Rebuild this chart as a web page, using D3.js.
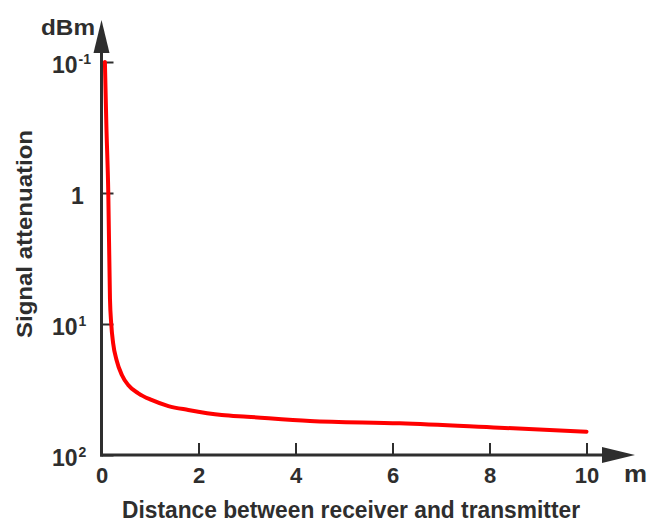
<!DOCTYPE html>
<html>
<head>
<meta charset="utf-8">
<script src="https://cdn.jsdelivr.net/npm/d3@7"></script>
<style>
  body { margin: 0; background: #fff; }
  text { font-family: "Liberation Sans", Arial, sans-serif; font-weight: bold; fill: #2e2e2e; }
</style>
</head>
<body>
<script>
// distance (m) and attenuation
const distance = [0.07, 0.10, 0.14, 0.175, 0.20, 0.24, 0.31, 0.42, 0.55, 0.76, 1.03, 1.38, 1.79, 2.48, 3.0, 4.3, 6.15, 8.2, 10];
const attenuation = [0.1, 0.3, 1, 6.5, 9.9, 14, 18.8, 24.5, 29.2, 33.8, 38, 42.3, 45.3, 49.5, 51, 55, 57.3, 61.9, 66.4];

const xTicks = [0, 2, 4, 6, 8, 10];
const yTicks = [0.1, 1, 10, 100];
const yTickBase = ['10', '1', '10', '10'];
const yTickExp = ['-1', '', '1', '2'];

const width = 647;
const height = 523;
const ink = '#2e2e2e';

let svg = d3.select('body').append('svg')
  .attr('width', width)
  .attr('height', height);

const x = d3.scaleLinear().domain([0, 10]).range([101.5, 586.5]);
const y = d3.scaleLog().domain([0.1, 100]).range([62, 455]);

const x0 = x.range()[0];
const y0 = y.range()[1];

// x axis ticks (pointing up) and labels
let gx = svg.append('g')
  .attr('transform', `translate(0,${y0})`)
  .call(d3.axisBottom(x).tickValues(xTicks).tickSize(-12).tickPadding(12).tickSizeOuter(0));
gx.select('.domain').remove();
gx.selectAll('.tick line').attr('stroke', ink).attr('stroke-width', 2);
gx.selectAll('.tick text')
  .style('font-size', '22px')
  .attr('fill', ink);

// y axis ticks (pointing right), custom labels
let gy = svg.append('g')
  .attr('transform', `translate(${x0},0)`)
  .call(d3.axisLeft(y).tickValues(yTicks).tickSize(-12).tickFormat(() => '').tickSizeOuter(0));
gy.select('.domain').remove();
gy.selectAll('.tick line').attr('stroke', ink).attr('stroke-width', 2);

yTicks.forEach((v, i) => {
  let t = svg.append('text')
    .attr('x', yTickExp[i] ? 52 : 71)
    .attr('y', y(v) + 11)
    .style('font-size', '23px');
  t.append('tspan').text(yTickBase[i]);
  if (yTickExp[i]) {
    t.append('tspan')
      .attr('dy', -9)
      .attr('dx', 1)
      .style('font-size', '14px')
      .text(yTickExp[i]);
  }
});

// axis lines with arrow heads
svg.append('line')
  .attr('x1', x0).attr('y1', y0 + 1.5)
  .attr('x2', x0).attr('y2', 50)
  .attr('stroke', ink).attr('stroke-width', 3);
svg.append('path')
  .attr('d', `M${x0},20 L${x0 + 8},53 L${x0 - 8},53 Z`)
  .attr('fill', ink);

svg.append('line')
  .attr('x1', x0 - 1.5).attr('y1', y0)
  .attr('x2', 604).attr('y2', y0)
  .attr('stroke', ink).attr('stroke-width', 3);
svg.append('path')
  .attr('d', `M635,${y0} L602,${y0 - 8} L602,${y0 + 8} Z`)
  .attr('fill', ink);

// the curve
const line = d3.line()
  .x((d, i) => x(distance[i]))
  .y((d) => y(d))
  .curve(d3.curveMonotoneX);

svg.append('path')
  .datum(attenuation)
  .attr('d', line)
  .attr('fill', 'none')
  .attr('stroke', '#ff0000')
  .attr('stroke-width', 4)
  .attr('stroke-linecap', 'round');

// titles and units
svg.append('text')
  .attr('x', 41).attr('y', 35)
  .attr('textLength', 54).attr('lengthAdjust', 'spacingAndGlyphs')
  .style('font-size', '22px')
  .text('dBm');

svg.append('text')
  .attr('x', 624).attr('y', 482)
  .attr('textLength', 23).attr('lengthAdjust', 'spacingAndGlyphs')
  .style('font-size', '23px')
  .text('m');

svg.append('text')
  .attr('x', 122).attr('y', 518)
  .attr('textLength', 458).attr('lengthAdjust', 'spacingAndGlyphs')
  .style('font-size', '23px')
  .text('Distance between receiver and transmitter');

svg.append('text')
  .attr('transform', 'translate(32,338) rotate(-90)')
  .attr('textLength', 208).attr('lengthAdjust', 'spacingAndGlyphs')
  .style('font-size', '22px')
  .text('Signal attenuation');
</script>
</body>
</html>
